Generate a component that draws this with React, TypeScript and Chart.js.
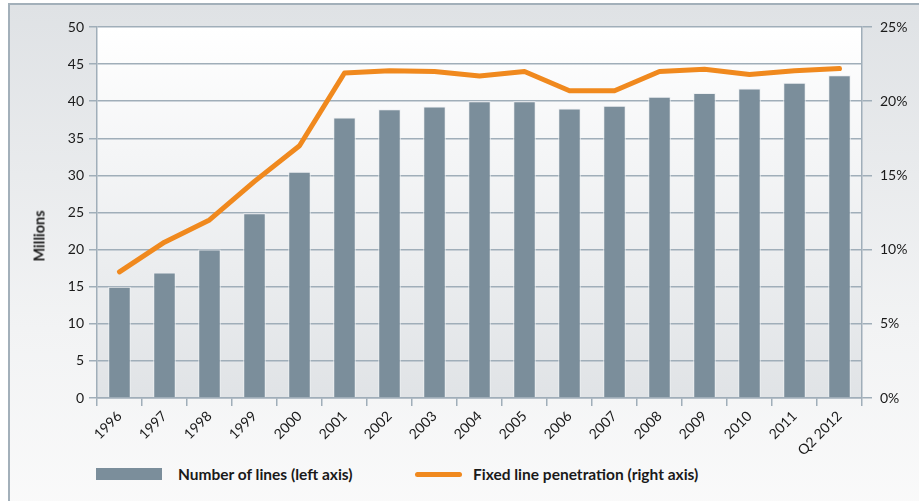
import React, { useEffect, useRef } from "react";
import { Chart, registerables } from "chart.js";

Chart.register(...registerables);

const categories = ["1996", "1997", "1998", "1999", "2000", "2001", "2002", "2003", "2004", "2005", "2006", "2007", "2008", "2009", "2010", "2011", "Q2 2012"];
const linesMillions = [15.0, 16.9, 20.0, 24.9, 30.5, 37.8, 38.9, 39.3, 40.0, 40.0, 39.0, 39.4, 40.6, 41.1, 41.7, 42.5, 43.5];
const penetrationPct = [8.5, 10.5, 12.0, 14.6, 17.0, 21.9, 22.05, 22.0, 21.7, 22.0, 20.7, 20.7, 22.0, 22.15, 21.8, 22.05, 22.2];
const leftTicks = [0, 5, 10, 15, 20, 25, 30, 35, 40, 45, 50];
const rightTicks = [0, 5, 10, 15, 20, 25];

const BAR = "#7b8e9b";
const ORANGE = "#f0891e";
const GRID = "#a0aeb9";
const FONT = "Lato, 'Open Sans', sans-serif";

const plotBg = {
  id: "plotBg",
  beforeDraw(chart: any) {
    const { ctx, chartArea } = chart;
    if (!chartArea) return;
    const g = ctx.createLinearGradient(0, chartArea.top, 0, chartArea.bottom);
    g.addColorStop(0, "#ffffff");
    g.addColorStop(1, "#e0e3e6");
    ctx.save();
    ctx.fillStyle = g;
    ctx.fillRect(chartArea.left, chartArea.top, chartArea.right - chartArea.left, chartArea.bottom - chartArea.top);
    ctx.restore();
  },
};

export default function App() {
  const ref = useRef<HTMLCanvasElement>(null);
  useEffect(() => {
    if (!ref.current) return;
    const chart = new Chart(ref.current, {
      type: "bar",
      data: {
        labels: categories,
        datasets: [
          {
            type: "line",
            label: "Fixed line penetration (right axis)",
            data: penetrationPct,
            yAxisID: "y1",
            borderColor: ORANGE,
            backgroundColor: ORANGE,
            borderWidth: 5,
            pointRadius: 0,
            tension: 0,
            borderCapStyle: "round",
            borderJoinStyle: "round",
            order: 0,
          } as any,
          {
            type: "bar",
            label: "Number of lines (left axis)",
            data: linesMillions,
            yAxisID: "y",
            backgroundColor: BAR,
            borderColor: "#eef0f2",
            borderWidth: 1,
            categoryPercentage: 1,
            barPercentage: 0.5,
            order: 1,
          } as any,
        ],
      },
      options: {
        animation: false,
        responsive: true,
        maintainAspectRatio: false,
        layout: { padding: { top: 22, left: 0, right: 0, bottom: 0 } },
        plugins: { legend: { display: false }, tooltip: { enabled: false } },
        scales: {
          x: {
            offset: true,
            grid: { offset: true, drawOnChartArea: false, color: GRID, tickLength: 8, lineWidth: 1.5 },
            border: { display: true, color: GRID, width: 1.5 },
            ticks: { color: "#1a1a1a", font: { family: FONT, size: 14 }, maxRotation: 45, minRotation: 45, padding: 2, autoSkip: false },
            afterFit(scale: any) { scale.height = 67; },
          },
          y: {
            position: "left",
            min: 0,
            max: 50,
            afterBuildTicks(scale: any) { scale.ticks = leftTicks.map((v) => ({ value: v })); },
            grid: { color: GRID, tickLength: 8, lineWidth: 1.5 },
            border: { display: true, color: GRID, width: 1.5 },
            ticks: { color: "#1a1a1a", font: { family: FONT, size: 14 }, padding: 5 },
            afterFit(scale: any) { scale.width = 87; },
          },
          y1: {
            position: "right",
            min: 0,
            max: 25,
            afterBuildTicks(scale: any) { scale.ticks = rightTicks.map((v) => ({ value: v })); },
            grid: { drawOnChartArea: false, color: GRID, tickLength: 10, lineWidth: 1.5 },
            border: { display: true, color: GRID, width: 1.5 },
            ticks: { color: "#1a1a1a", font: { family: FONT, size: 14 }, padding: 8, callback: (v: any) => v + "%" },
            afterFit(scale: any) { scale.width = 48; },
          },
        },
      },
      plugins: [plotBg],
    });
    return () => chart.destroy();
  }, []);

  const legendText: React.CSSProperties = {
    position: "absolute",
    top: 474,
    transform: "translateY(-50%)",
    fontFamily: FONT,
    fontWeight: 700,
    fontSize: 15.5,
    color: "#1a1a1a",
    whiteSpace: "nowrap",
  };

  return (
    <div style={{ position: "fixed", left: 0, top: 0, width: 919, height: 501, overflow: "hidden", background: "#fff" }}>
      <div
        style={{
          position: "absolute",
          left: 8,
          top: 3,
          width: 960,
          height: 540,
          boxSizing: "border-box",
          borderLeft: "2px solid #a3b0ba",
          borderTop: "2px solid #a3b0ba",
          background: "linear-gradient(#dfe2e5 0%, #f2f3f4 60%, #fbfbfb 100%)",
        }}
      />
      <div style={{ position: "absolute", left: 10, top: 5, width: 900, height: 460 }}>
        <canvas ref={ref} />
      </div>
      <div
        style={{
          position: "absolute",
          left: 39,
          top: 236,
          transform: "translate(-50%, -50%) rotate(-90deg)",
          fontFamily: FONT,
          fontWeight: 700,
          fontSize: 14.5,
          color: "#1a1a1a",
          whiteSpace: "nowrap",
        }}
      >
        Millions
      </div>
      <div style={{ position: "absolute", left: 96, top: 468, width: 66, height: 12, background: BAR }} />
      <div style={{ ...legendText, left: 178 }}>Number of lines (left axis)</div>
      <div style={{ position: "absolute", left: 415, top: 471.5, width: 47, height: 5, borderRadius: 3, background: ORANGE }} />
      <div style={{ ...legendText, left: 473 }}>Fixed line penetration (right axis)</div>
    </div>
  );
}
